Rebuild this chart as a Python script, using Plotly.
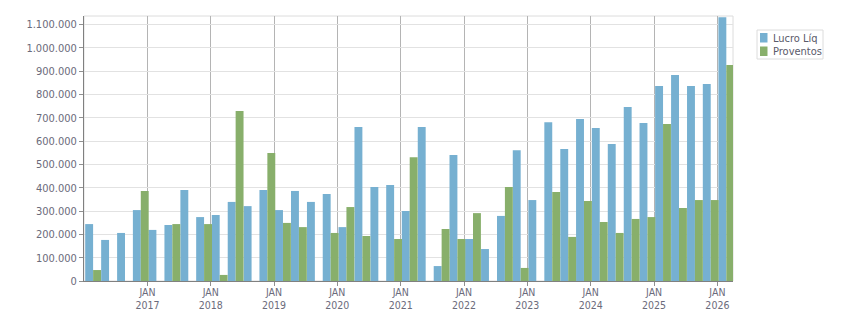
import plotly.graph_objects as go

quarters = [
    "2016-03-01", "2016-06-01", "2016-09-01", "2016-12-01",
    "2017-03-01", "2017-06-01", "2017-09-01", "2017-12-01",
    "2018-03-01", "2018-06-01", "2018-09-01", "2018-12-01",
    "2019-03-01", "2019-06-01", "2019-09-01", "2019-12-01",
    "2020-03-01", "2020-06-01", "2020-09-01", "2020-12-01",
    "2021-03-01", "2021-06-01", "2021-09-01", "2021-12-01",
    "2022-03-01", "2022-06-01", "2022-09-01", "2022-12-01",
    "2023-03-01", "2023-06-01", "2023-09-01", "2023-12-01",
    "2024-03-01", "2024-06-01", "2024-09-01", "2024-12-01",
    "2025-03-01", "2025-06-01", "2025-09-01", "2025-12-01",
    "2026-03-01",
]

lucro_liq = [
    244000, 176000, 206000, 304000,
    219000, 240000, 390000, 274000,
    283000, 339000, 321000, 390000,
    304000, 386000, 339000, 373000,
    231000, 660000, 403000, 411000,
    300000, 660000, 64000, 540000,
    180000, 137000, 279000, 561000,
    347000, 681000, 566000, 694000,
    656000, 587000, 746000, 677000,
    836000, 883000, 836000, 844000,
    1131000,
]

proventos = [
    47000, 0, 0, 386000,
    0, 244000, 0, 244000,
    26000, 729000, 0, 549000,
    249000, 231000, 0, 206000,
    317000, 193000, 0, 180000,
    531000, 0, 223000, 180000,
    291000, 0, 403000, 56000,
    0, 381000, 189000, 343000,
    253000, 206000, 266000, 274000,
    673000, 313000, 347000, 347000,
    926000,
]

series_names = ["Lucro Líq", "Proventos"]

year_ticks = ["2017-01-01", "2018-01-01", "2019-01-01", "2020-01-01", "2021-01-01",
              "2022-01-01", "2023-01-01", "2024-01-01", "2025-01-01", "2026-01-01"]
year_labels = ["JAN<br>2017", "JAN<br>2018", "JAN<br>2019", "JAN<br>2020", "JAN<br>2021",
               "JAN<br>2022", "JAN<br>2023", "JAN<br>2024", "JAN<br>2025", "JAN<br>2026"]

y_ticks = [0, 100000, 200000, 300000, 400000, 500000, 600000, 700000, 800000, 900000, 1000000, 1100000]

DAY = 86400000
bar_w = 45.6 * DAY
shift = 7.5 * DAY

BLUE = "#76B0D1"
GREEN = "#88AF6B"
FONT = "DejaVu Sans Condensed, DejaVu Sans, sans-serif"
TXT = "#6b6b7b"

# plot area in pixels: x 84..733, y 16..281
L, R, T, B = 84, 733, 16, 281
W, H = R - L, B - T


def px(x):
    return (x - L) / W


def py(y):
    return (B - y) / H


fig = go.Figure()
fig.add_trace(go.Bar(x=quarters, y=lucro_liq, name=series_names[0], marker_color=BLUE,
                     marker_line_width=0, width=bar_w, offset=-bar_w - shift))
fig.add_trace(go.Bar(x=quarters, y=proventos, name=series_names[1], marker_color=GREEN,
                     marker_line_width=0, width=bar_w, offset=-shift))

shapes = [
    dict(type="rect", xref="paper", yref="paper", x0=0, x1=1, y0=0, y1=1,
         line=dict(color="#dcdcdc", width=1), layer="below"),
    # legend box
    dict(type="rect", xref="paper", yref="paper", x0=px(757), x1=px(823), y0=py(59), y1=py(30),
         line=dict(color="#dcdcdc", width=1), fillcolor="white", layer="above"),
    dict(type="rect", xref="paper", yref="paper", x0=px(760), x1=px(767.5), y0=py(42.5), y1=py(33),
         line=dict(width=0), fillcolor=BLUE, layer="above"),
    dict(type="rect", xref="paper", yref="paper", x0=px(760), x1=px(767.5), y0=py(56), y1=py(46.5),
         line=dict(width=0), fillcolor=GREEN, layer="above"),
]
annotations = [
    dict(xref="paper", yref="paper", x=px(770.5), y=py(38.5), text=series_names[0],
         showarrow=False, xanchor="left", yanchor="middle",
         font=dict(family=FONT, size=11, color="#5a5a6a")),
    dict(xref="paper", yref="paper", x=px(770.5), y=py(52), text=series_names[1],
         showarrow=False, xanchor="left", yanchor="middle",
         font=dict(family=FONT, size=11, color="#5a5a6a")),
]

fig.update_layout(
    width=851, height=313,
    margin=dict(l=L, r=851 - R, t=T, b=313 - B, autoexpand=False),
    paper_bgcolor="white", plot_bgcolor="white",
    barmode="overlay",
    separators=",.",
    font=dict(family=FONT, size=11, color=TXT),
    showlegend=False,
    shapes=shapes,
    annotations=annotations,
)

fig.update_xaxes(
    type="date", range=["2016-01-01", "2026-04-01"],
    tickvals=year_ticks, ticktext=year_labels,
    showgrid=True, gridcolor="#b4b4b4", gridwidth=1,
    showline=True, linecolor="#808080", linewidth=1,
    ticks="outside", ticklen=4, tickcolor="#909090",
    tickfont=dict(family=FONT, size=10.5, color=TXT),
    ticklabelstandoff=-3,
    zeroline=False, automargin=False,
)
fig.update_yaxes(
    range=[0, 1136000], tickvals=y_ticks, tickformat=",d",
    showgrid=True, gridcolor="#e2e2e2", gridwidth=1,
    showline=True, linecolor="#808080", linewidth=1,
    ticks="outside", ticklen=4, tickcolor="#909090",
    tickfont=dict(family=FONT, size=11, color=TXT),
    zeroline=False, automargin=False,
)

fig.write_html("out.html")
